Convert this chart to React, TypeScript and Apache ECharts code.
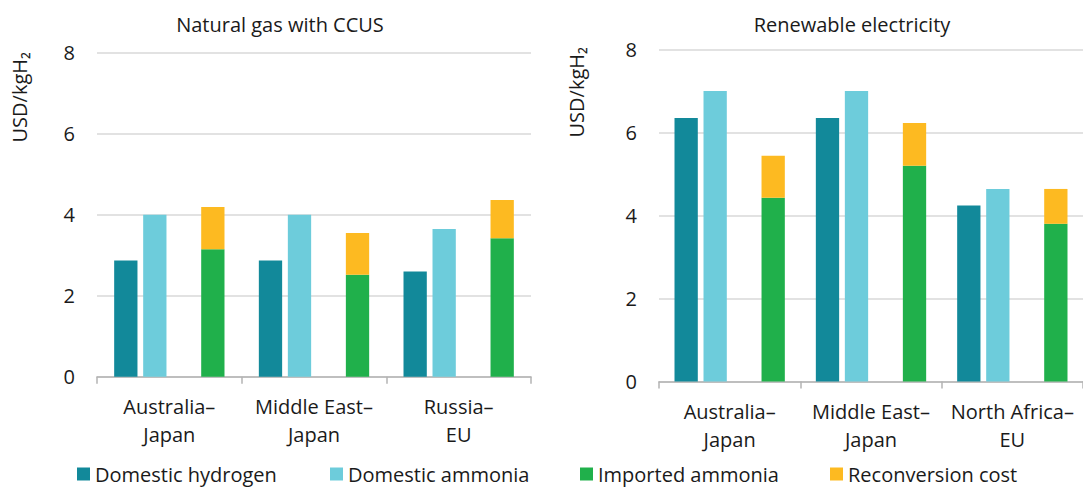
import React, { useEffect, useRef } from "react";
import * as echarts from "echarts";

const leftCategories = ["Australia–\nJapan", "Middle East–\nJapan", "Russia–\nEU"];
const rightCategories = ["Australia–\nJapan", "Middle East–\nJapan", "North Africa–\nEU"];

const leftHydrogen = [2.87, 2.87, 2.6];
const leftAmmonia = [4.0, 4.0, 3.65];
const leftImported = [3.15, 2.52, 3.42];
const leftReconversion = [1.04, 1.03, 0.94];

const rightHydrogen = [6.35, 6.35, 4.24];
const rightAmmonia = [7.0, 7.0, 4.64];
const rightImported = [4.43, 5.2, 3.8];
const rightReconversion = [1.01, 1.03, 0.84];

const panelTitles = ["Natural gas with CCUS", "Renewable electricity"];
const yAxisName = "USD/kgH₂";
const seriesNames = ["Domestic hydrogen", "Domestic ammonia", "Imported ammonia", "Reconversion cost"];
const colors = ["#12899A", "#6DCCDB", "#20B04B", "#FDBA21"];

const FONT = "'Open Sans', 'Noto Sans', sans-serif";
const TEXT = "#1a1a1a";

export default function App() {
  const ref = useRef<HTMLDivElement>(null);

  useEffect(() => {
    if (!ref.current) return;
    const chart = echarts.init(ref.current, undefined, { renderer: "svg" });

    const grids = [
      { left: 97, top: 52.7, width: 434, height: 324 },
      { left: 659, top: 49.5, width: 434, height: 332 },
    ];

    const xAxis = [leftCategories, rightCategories].map((cats, i) => ({
      type: "category",
      gridIndex: i,
      data: cats,
      axisLine: { lineStyle: { color: "#b3b3b3", width: 1.5 } },
      axisTick: { show: true, length: 7, lineStyle: { color: "#b3b3b3", width: 1.5 } },
      axisLabel: {
        color: TEXT,
        fontSize: 20,
        fontFamily: FONT,
        lineHeight: 28,
        margin: 16,
        interval: 0,
      },
    }));

    const yAxis = [0, 1].map((i) => ({
      type: "value",
      gridIndex: i,
      min: 0,
      max: 8,
      interval: 2,
      axisLine: { show: false },
      axisTick: { show: false },
      splitLine: { lineStyle: { color: "#e2e2e2", width: 2 } },
      axisLabel: { color: TEXT, fontSize: 20, fontFamily: FONT, margin: 22 },
    }));

    const makeSeries = (
      idx: number,
      h: number[],
      a: number[],
      imp: number[],
      rec: number[]
    ) => {
      const common = {
        type: "bar",
        xAxisIndex: idx,
        yAxisIndex: idx,
        barWidth: 23.3,
        barGap: "24.5%",
      };
      return [
        { ...common, name: seriesNames[0], data: h, itemStyle: { color: colors[0] } },
        { ...common, name: seriesNames[1], data: a, itemStyle: { color: colors[1] } },
        { ...common, name: "spacer" + idx, data: h.map(() => null), itemStyle: { color: "transparent" } },
        { ...common, name: seriesNames[2], stack: "imp" + idx, data: imp, itemStyle: { color: colors[2] } },
        { ...common, name: seriesNames[3], stack: "imp" + idx, data: rec, itemStyle: { color: colors[3] } },
      ];
    };

    const legendLefts = [77, 330, 580, 830];
    const legend = seriesNames.map((n, i) => ({
      data: [n],
      left: legendLefts[i],
      top: 464,
      padding: 0,
      itemWidth: 13,
      itemHeight: 13,
      icon: "rect",
      selectedMode: false,
      textStyle: { color: TEXT, fontSize: 20, fontFamily: FONT },
    }));

    const titleXs = [280, 852];
    const yNameXs = [19, 576];
    const yNameYs = [52, 47];

    const graphic: any[] = [];
    panelTitles.forEach((t, i) => {
      graphic.push({
        type: "text",
        x: titleXs[i],
        y: 24,
        style: {
          text: t,
          align: "center",
          verticalAlign: "middle",
          fontSize: 20,
          fontFamily: FONT,
          fill: TEXT,
        },
      });
      graphic.push({
        type: "text",
        x: yNameXs[i],
        y: yNameYs[i],
        rotation: Math.PI / 2,
        style: {
          text: yAxisName,
          align: "right",
          verticalAlign: "middle",
          fontSize: 20,
          fontFamily: FONT,
          fill: TEXT,
        },
      });
    });

    chart.setOption({
      animation: false,
      grid: grids,
      xAxis,
      yAxis,
      legend,
      graphic,
      series: [
        ...makeSeries(0, leftHydrogen, leftAmmonia, leftImported, leftReconversion),
        ...makeSeries(1, rightHydrogen, rightAmmonia, rightImported, rightReconversion),
      ],
    });

    return () => chart.dispose();
  }, []);

  return (
    <div
      ref={ref}
      style={{ position: "absolute", left: 0, top: 0, width: 1083, height: 490, background: "#fff" }}
    />
  );
}
